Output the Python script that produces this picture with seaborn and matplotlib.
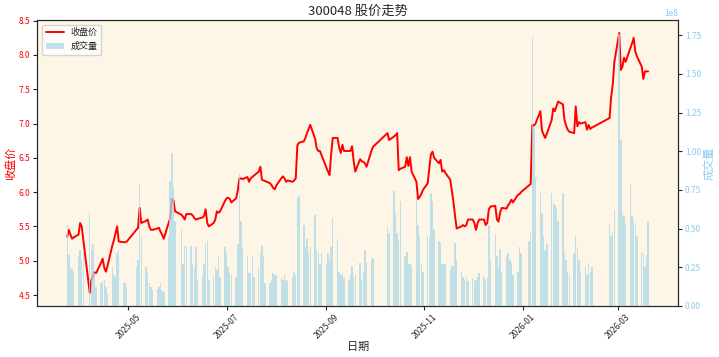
import pandas as pd
import numpy as np
import seaborn as sns
import matplotlib
matplotlib.use("Agg")
import matplotlib.pyplot as plt
import matplotlib.dates as mdates

# daily close by month (trading days only)
close_2025_03 = [5.35, 5.45, 5.38, 5.32, 5.34, 5.38]
close_2025_04 = [5.55, 5.50, 5.30, 4.53, 4.72, 4.78, 4.83, 4.82, 4.97, 5.03, 4.90,
                 4.84, 4.92, 5.22, 5.30, 5.40, 5.50, 5.28, 5.27, 5.27, 5.28]
close_2025_05 = [5.45, 5.48, 5.77, 5.55, 5.58, 5.60, 5.50, 5.45, 5.45, 5.47, 5.48,
                 5.42, 5.38, 5.32, 5.55, 5.62, 5.90, 5.88, 5.72]
close_2025_06 = [5.67, 5.64, 5.60, 5.68, 5.68, 5.66, 5.62, 5.60, 5.61, 5.63, 5.65,
                 5.75, 5.55, 5.50, 5.55, 5.60, 5.72, 5.70, 5.72, 5.87]
close_2025_07 = [5.91, 5.92, 5.90, 5.85, 5.91, 6.03, 6.20, 6.20, 6.19, 6.22, 6.15,
                 6.20, 6.22, 6.24, 6.30, 6.37, 6.18, 6.17, 6.16, 6.13, 6.10, 6.06, 6.04]
close_2025_08 = [6.10, 6.20, 6.23, 6.20, 6.15, 6.17, 6.15, 6.17, 6.20, 6.68, 6.72,
                 6.74, 6.79, 6.86, 6.92, 6.98, 6.78, 6.64, 6.60, 6.60, 6.54]
close_2025_09 = [6.36, 6.30, 6.25, 6.55, 6.79, 6.79, 6.65, 6.57, 6.69, 6.60, 6.60,
                 6.60, 6.67, 6.45, 6.30, 6.48, 6.45, 6.44, 6.42, 6.37, 6.60, 6.66]
close_2025_10 = [6.86, 6.76, 6.81, 6.83, 6.86, 6.32, 6.34, 6.37, 6.51, 6.38, 6.51,
                 6.30, 6.15, 5.90, 5.93, 5.97, 6.03]
close_2025_11 = [6.13, 6.35, 6.55, 6.59, 6.50, 6.42, 6.47, 6.30, 6.32, 6.28, 6.18,
                 6.02, 5.86, 5.65, 5.47, 5.50, 5.52, 5.50, 5.52, 5.60]
close_2025_12 = [5.60, 5.55, 5.45, 5.55, 5.60, 5.60, 5.52, 5.55, 5.75, 5.79, 5.80,
                 5.60, 5.57, 5.70, 5.77, 5.76, 5.81, 5.84, 5.89, 5.85, 5.96, 5.97, 6.00]
close_2026_01 = [6.10, 6.12, 6.98, 6.97, 7.00, 7.18, 6.90, 6.84, 6.79, 6.85, 7.05,
                 7.22, 7.18, 7.25, 7.32, 7.28, 7.05, 6.97, 6.91, 6.88]
close_2026_02 = [6.86, 7.25, 6.96, 7.02, 7.00, 7.02, 6.91, 6.98, 6.92, 6.94, 7.08,
                 7.39, 7.57, 7.90]
close_2026_03 = [8.32, 7.78, 7.83, 7.96, 7.90, 8.10, 8.17, 8.25, 8.05, 7.98, 7.83,
                 7.65, 7.76, 7.76, 7.76]

# daily volume by month, in units of 1e8 shares
vol_2025_03 = [0.52, 0.33, 0.25, 0.24, 0.21, 0.32]
vol_2025_04 = [0.36, 0.30, 0.34, 0.60, 0.36, 0.40, 0.21, 0.12, 0.15, 0.16, 0.17,
               0.12, 0.08, 0.25, 0.20, 0.19, 0.34, 0.36, 0.15, 0.15, 0.12]
vol_2025_05 = [0.25, 0.30, 0.79, 0.45, 0.25, 0.21, 0.15, 0.12, 0.10, 0.11, 0.12,
               0.15, 0.10, 0.09, 0.45, 0.81, 0.99, 0.77, 0.55]
vol_2025_06 = [0.49, 0.27, 0.39, 0.39, 0.39, 0.27, 0.25, 0.38, 0.17, 0.19, 0.27,
               0.40, 0.42, 0.17, 0.19, 0.25, 0.23, 0.32, 0.19, 0.38]
vol_2025_07 = [0.34, 0.25, 0.21, 0.20, 0.19, 0.40, 0.85, 0.55, 0.38, 0.32, 0.21,
               0.21, 0.32, 0.19, 0.25, 0.34, 0.39, 0.32, 0.15, 0.15, 0.17, 0.21, 0.20]
vol_2025_08 = [0.20, 0.18, 0.17, 0.20, 0.17, 0.16, 0.18, 0.22, 0.20, 0.70, 0.71,
               0.52, 0.38, 0.43, 0.34, 0.38, 0.59, 0.36, 0.34, 0.27, 0.34]
vol_2025_09 = [0.27, 0.34, 0.30, 0.38, 0.57, 0.43, 0.22, 0.20, 0.21, 0.18, 0.17,
               0.20, 0.26, 0.19, 0.20, 0.28, 0.17, 0.22, 0.36, 0.28, 0.30, 0.31]
vol_2025_10 = [0.51, 0.47, 0.74, 0.60, 0.47, 0.42, 0.68, 0.32, 0.35, 0.27, 0.27,
               0.25, 0.71, 0.52, 0.45, 0.27, 0.22]
vol_2025_11 = [0.45, 0.44, 0.73, 0.68, 0.50, 0.42, 0.41, 0.27, 0.27, 0.27, 0.23,
               0.26, 0.25, 0.41, 0.30, 0.22, 0.19, 0.17, 0.18, 0.16]
vol_2025_12 = [0.18, 0.16, 0.17, 0.19, 0.21, 0.19, 0.16, 0.18, 0.52, 0.30, 0.46,
               0.32, 0.25, 0.37, 0.22, 0.33, 0.34, 0.30, 0.28, 0.20, 0.22, 0.38, 0.34]
vol_2026_01 = [0.42, 0.47, 1.74, 1.15, 0.83, 0.73, 0.60, 0.45, 0.36, 0.40, 0.73,
               0.66, 0.65, 0.63, 0.55, 0.73, 0.34, 0.30, 0.22, 0.20]
vol_2026_02 = [0.34, 0.45, 0.38, 0.30, 0.21, 0.25, 0.20, 0.28, 0.22, 0.25, 0.52,
               0.45, 0.48, 0.62]
vol_2026_03 = [1.76, 1.07, 0.60, 0.58, 0.52, 0.79, 0.58, 0.55, 0.52, 0.45, 0.35,
               0.34, 0.25, 0.33, 0.55]

# exchange holidays (no trading)
holidays = ["2025-04-04", "2025-05-01", "2025-05-02", "2025-05-05", "2025-06-02",
            "2025-10-01", "2025-10-02", "2025-10-03", "2025-10-06", "2025-10-07",
            "2025-10-08", "2026-01-01", "2026-01-02", "2026-02-16", "2026-02-17",
            "2026-02-18", "2026-02-19", "2026-02-20", "2026-02-23"]

close = (close_2025_03 + close_2025_04 + close_2025_05 + close_2025_06 + close_2025_07
         + close_2025_08 + close_2025_09 + close_2025_10 + close_2025_11 + close_2025_12
         + close_2026_01 + close_2026_02 + close_2026_03)
volume = (vol_2025_03 + vol_2025_04 + vol_2025_05 + vol_2025_06 + vol_2025_07
          + vol_2025_08 + vol_2025_09 + vol_2025_10 + vol_2025_11 + vol_2025_12
          + vol_2026_01 + vol_2026_02 + vol_2026_03)

dates = pd.bdate_range("2025-03-24", "2026-03-20")
dates = dates[~dates.isin(pd.to_datetime(holidays))]

df = pd.DataFrame({"日期": dates, "收盘价": close, "成交量": np.array(volume) * 1e8})

sns.set_style("ticks")
plt.rcParams["font.family"] = ["Noto Sans CJK SC", "DejaVu Sans"]
plt.rcParams["axes.unicode_minus"] = False

fig, ax1 = plt.subplots(figsize=(7.19, 3.57), dpi=100)
fig.subplots_adjust(left=0.052, right=0.943, top=0.944, bottom=0.143)
ax1.set_facecolor("#FDF5E6")

sns.lineplot(data=df, x="日期", y="收盘价", ax=ax1, color="red", linewidth=1.4,
             label="收盘价")
if ax1.get_legend() is not None:
    ax1.get_legend().remove()

ax2 = ax1.twinx()
ax2.bar(df["日期"], df["成交量"], width=0.9, color="lightblue", alpha=0.75,
        linewidth=0, label="成交量")

ax1.set_title("300048 股价走势", fontsize=9.5, pad=4)
ax1.set_xlabel("日期", fontsize=8, labelpad=1)
ax1.set_ylabel("收盘价", color="red", fontsize=8, labelpad=2)
ax2.set_ylabel("成交量", color="skyblue", fontsize=8, labelpad=2)

ax1.tick_params(axis="y", labelcolor="red", labelsize=6, length=3, pad=2)
ax2.tick_params(axis="y", labelcolor="skyblue", labelsize=6, length=3, pad=2)
ax1.tick_params(axis="x", labelsize=6, length=3, pad=2)
ax2.yaxis.get_offset_text().set_color("skyblue")
ax2.yaxis.get_offset_text().set_fontsize(6)

ax1.xaxis.set_major_locator(mdates.MonthLocator(bymonth=[1, 3, 5, 7, 9, 11]))
ax1.xaxis.set_major_formatter(mdates.DateFormatter("%Y-%m"))
plt.setp(ax1.get_xticklabels(), rotation=45)

h1, l1 = ax1.get_legend_handles_labels()
h2, l2 = ax2.get_legend_handles_labels()
ax2.legend(h1 + h2, l1 + l2, loc="upper left", fontsize=6.5)

plt.savefig("out.png", dpi=100)
